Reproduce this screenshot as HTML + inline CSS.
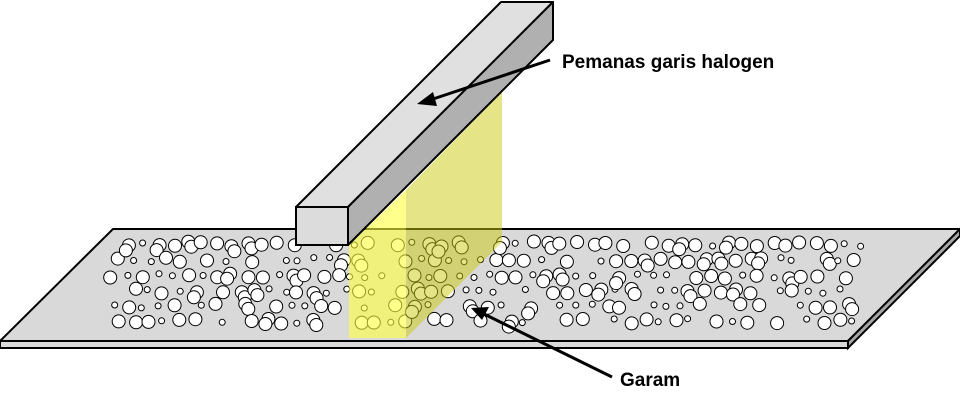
<!DOCTYPE html>
<html><head><meta charset="utf-8"><style>
html,body{margin:0;padding:0;background:#fff;width:960px;height:410px;overflow:hidden}
svg{display:block}
text{font-family:"Liberation Sans",sans-serif;font-weight:bold;fill:#000}
</style></head><body>
<svg id="s" width="960" height="410" viewBox="0 0 960 410">
<polygon points="113,229 960,229 848,341 0,341" fill="#d9d9d9" stroke="#000" stroke-width="2"/>
<polygon points="0,341 848,341 848,348 0,348" fill="#d9d9d9" stroke="#000" stroke-width="2"/>
<polygon points="848,341 960,229 960,236 848,348" fill="#a6a6a6" stroke="#000" stroke-width="2"/>
<g id="salt" fill="#fff" stroke="#000" stroke-width="1"></g>
<polygon points="349,245 406,190 406,338 349,338" fill="#ffff40" fill-opacity="0.6"/>
<polygon points="406,190 502,92 502,242 406,338" fill="#cccc10" fill-opacity="0.5"/>
<polygon points="296,207 501,2 553,2 348,207" fill="#e0e0e0" stroke="#000" stroke-width="2" stroke-linejoin="round"/>
<polygon points="348,207 553,2 553,40 348,245" fill="#b0b0b0" stroke="#000" stroke-width="2" stroke-linejoin="round"/>
<rect x="296" y="207" width="52" height="38" fill="#dcdcdc" stroke="#000" stroke-width="2"/>
<line x1="550" y1="60" x2="430" y2="100" stroke="#000" stroke-width="3"/>
<polygon points="417,104 433,92 437,106" fill="#000"/>
<line x1="612" y1="377" x2="484" y2="314" stroke="#000" stroke-width="3"/>
<polygon points="471,308 489,307 482,320" fill="#000"/>
<text x="562" y="68" font-size="19">Pemanas garis halogen</text>
<text x="620" y="386" font-size="19">Garam</text>
</svg>
<script>
var g=document.getElementById('salt'),ns='http://www.w3.org/2000/svg';
var rows=[244,260,276,291,306,321];
var seed=11;function r(){seed=(seed*9301+49297)%233280;return seed/233280;}
function add(x,y,rad){var c=document.createElementNS(ns,'circle');
 c.setAttribute('cx',x.toFixed(1));c.setAttribute('cy',y.toFixed(1));c.setAttribute('r',rad);g.appendChild(c);}
for(var x=112;x<=862;x+=15){
 for(var i=0;i<rows.length;i++){
  var y=rows[i];
  var xs=x+(i%2?7:0)+(r()-0.5)*6;
  if(xs>862)continue;
  var v=r(),rad=v<0.5?6.5:(v<0.8?3:0);
  if(!rad)continue;
  var ys=y+(r()-0.5)*5;
  add(xs,ys,rad);
  if(rad>5&&r()<0.25)add(xs+(r()<.5?-3:3),ys+5,6.5);
 }
}
</script>
</body></html>
